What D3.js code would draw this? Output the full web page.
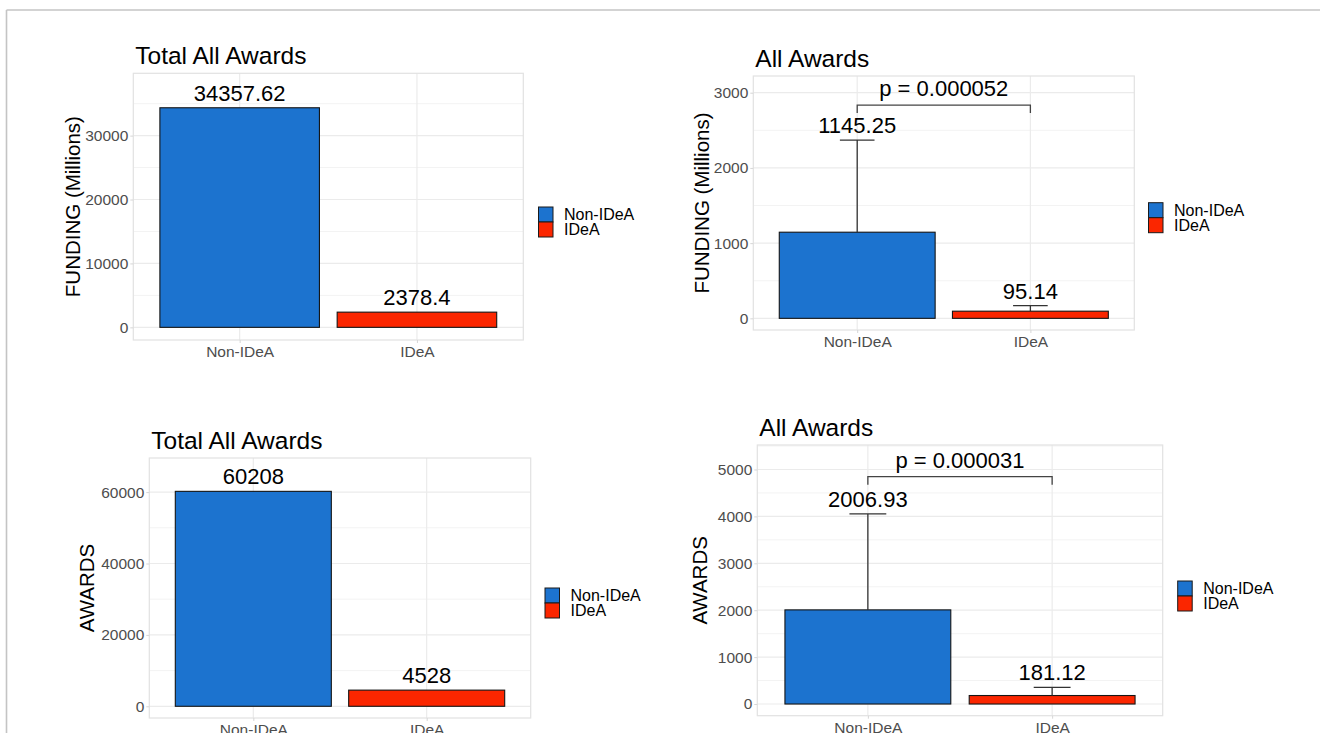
<!DOCTYPE html>
<html>
<head>
<meta charset="utf-8">
<script src="https://cdn.jsdelivr.net/npm/d3@7"></script>
<style>
  html, body { margin: 0; padding: 0; background: #ffffff; }
  svg { display: block; font-family: "Liberation Sans", Arial, Helvetica, sans-serif; }
</style>
</head>
<body>
<svg id="chart" width="1320" height="733"></svg>
<script>
// ---- data ----
const categories = ["Non-IDeA", "IDeA"];
const fillColors = ["#1c73cf", "#fb2600"];

const totalFunding = [34357.62, 2378.4];      // millions, summed
const meanFunding  = [1145.25, 95.14];        // millions, mean per state
const sdFunding    = [1225, 73];              // upper error bar extent

const totalAwards  = [60208, 4528];
const meanAwards   = [2006.93, 181.12];
const sdAwards     = [2045, 175];

const fundingTotalTicks = [0, 10000, 20000, 30000];
const fundingMeanTicks  = [0, 1000, 2000, 3000];
const awardsTotalTicks  = [0, 20000, 40000, 60000];
const awardsMeanTicks   = [0, 1000, 2000, 3000, 4000, 5000];

const pFunding = "p = 0.000052";
const pAwards  = "p = 0.000031";

// ---- panel layout ----
const panels = [
  { title: "Total All Awards", yTitle: "FUNDING (Millions)",
    left: 133.3, right: 523.3, top: 73.3, bottom: 340,
    domain: [-1980, 39750], ticks: fundingTotalTicks, values: totalFunding,
    yTitleX: 79.5, legendX: 538.5, legendY: 207 },
  { title: "All Awards", yTitle: "FUNDING (Millions)",
    left: 753.3, right: 1134.3, top: 76, bottom: 330,
    domain: [-155, 3222], ticks: fundingMeanTicks, values: meanFunding, sd: sdFunding,
    p: pFunding, bracketY: 2836, bracketTip: 106,
    yTitleX: 708.5, legendX: 1148.5, legendY: 202.7 },
  { title: "Total All Awards", yTitle: "AWARDS",
    left: 149.3, right: 530.7, top: 458, bottom: 718,
    domain: [-3280, 69550], ticks: awardsTotalTicks, values: totalAwards,
    yTitleX: 93.5, legendX: 545, legendY: 588 },
  { title: "All Awards", yTitle: "AWARDS",
    left: 757.3, right: 1162.7, top: 445, bottom: 715.7,
    domain: [-249, 5522], ticks: awardsMeanTicks, values: meanAwards, sd: sdAwards,
    p: pAwards, bracketY: 4846, bracketTip: 174,
    yTitleX: 706.5, legendX: 1177.7, legendY: 581 }
];

const svg = d3.select("#chart");

// outer frame lines
svg.append("line").attr("x1", 6.5).attr("x2", 1320).attr("y1", 10).attr("y2", 10)
  .attr("stroke", "#c4c4c4").attr("stroke-width", 1.6);
svg.append("line").attr("x1", 6.5).attr("x2", 6.5).attr("y1", 10).attr("y2", 733)
  .attr("stroke", "#c4c4c4").attr("stroke-width", 1.6);

panels.forEach(p => {
  const g = svg.append("g");
  const x = d3.scalePoint().domain(categories).range([p.left, p.right]).padding(0.6);
  const step = x.step();
  const y = d3.scaleLinear().domain(p.domain).range([p.bottom, p.top]);

  // minor grid (midpoints between major ticks)
  const tStep = p.ticks[1] - p.ticks[0];
  const minor = [];
  for (let v = tStep / 2; v < p.domain[1]; v += tStep) minor.push(v);
  g.selectAll(".minor").data(minor).join("line")
    .attr("x1", p.left).attr("x2", p.right)
    .attr("y1", d => y(d)).attr("y2", d => y(d))
    .attr("stroke", "#f3f3f3").attr("stroke-width", 1);

  // major grid
  g.selectAll(".major").data(p.ticks).join("line")
    .attr("x1", p.left).attr("x2", p.right)
    .attr("y1", d => y(d)).attr("y2", d => y(d))
    .attr("stroke", "#ebebeb").attr("stroke-width", 1.2);
  g.selectAll(".vmajor").data(categories).join("line")
    .attr("x1", d => x(d)).attr("x2", d => x(d))
    .attr("y1", p.top).attr("y2", p.bottom)
    .attr("stroke", "#ebebeb").attr("stroke-width", 1.2);

  // panel border
  g.append("rect").attr("x", p.left).attr("y", p.top)
    .attr("width", p.right - p.left).attr("height", p.bottom - p.top)
    .attr("fill", "none").attr("stroke", "#e2e2e2").attr("stroke-width", 1.2);

  // bars
  const bw = step * 0.9;
  g.selectAll(".bar").data(categories).join("rect")
    .attr("x", d => x(d) - bw / 2)
    .attr("width", bw)
    .attr("y", (d, i) => y(p.values[i]))
    .attr("height", (d, i) => y(0) - y(p.values[i]))
    .attr("fill", (d, i) => fillColors[i])
    .attr("stroke", "#151515").attr("stroke-width", 1.1);

  // error bars (upper only, drawn above the bar)
  const capW = step * 0.2;
  if (p.sd) {
    categories.forEach((c, i) => {
      const top = p.values[i] + p.sd[i];
      g.append("line").attr("x1", x(c)).attr("x2", x(c))
        .attr("y1", y(p.values[i])).attr("y2", y(top))
        .attr("stroke", "#333").attr("stroke-width", 1.3);
      g.append("line").attr("x1", x(c) - capW / 2).attr("x2", x(c) + capW / 2)
        .attr("y1", y(top)).attr("y2", y(top))
        .attr("stroke", "#333").attr("stroke-width", 1.3);
    });
  }

  // value labels
  g.selectAll(".vlabel").data(categories).join("text")
    .attr("x", d => x(d))
    .attr("y", (d, i) => y(p.values[i] + (p.sd ? p.sd[i] : 0)) - 7)
    .attr("text-anchor", "middle")
    .style("font-size", "22px").attr("fill", "#000")
    .text((d, i) => String(p.values[i]));

  // significance bracket
  if (p.p) {
    const x0 = x(categories[0]), x1 = x(categories[1]);
    const yb = y(p.bracketY), yt = y(p.bracketY - p.bracketTip);
    g.append("path")
      .attr("d", `M${x0},${yt}V${yb}H${x1}V${yt}`)
      .attr("fill", "none").attr("stroke", "#444").attr("stroke-width", 1.3);
    g.append("text").attr("x", (x0 + x1) / 2).attr("y", yb - 9)
      .attr("text-anchor", "middle").style("font-size", "22px").attr("fill", "#000")
      .text(p.p);
  }

  // y axis
  const ya = g.append("g").attr("transform", `translate(${p.left},0)`)
    .call(d3.axisLeft(y).tickValues(p.ticks).tickSize(3).tickPadding(2).tickFormat(d3.format("d")));
  ya.select(".domain").remove();
  ya.selectAll(".tick line").attr("stroke", "#d6d6d6");
  ya.selectAll(".tick text").style("font-size", "15.5px").attr("fill", "#4d4d4d")
    .style("font-family", "'Liberation Sans', Arial, sans-serif");

  // x axis
  const xa = g.append("g").attr("transform", `translate(0,${p.bottom})`)
    .call(d3.axisBottom(x).tickSize(3).tickPadding(3));
  xa.select(".domain").remove();
  xa.selectAll(".tick line").attr("stroke", "#d6d6d6");
  xa.selectAll(".tick text").style("font-size", "15.5px").attr("fill", "#4d4d4d")
    .style("font-family", "'Liberation Sans', Arial, sans-serif");

  // titles
  g.append("text").attr("x", p.left + 2).attr("y", p.top - 9.5)
    .style("font-size", "24.5px").attr("fill", "#000").text(p.title);
  g.append("text")
    .attr("transform", `translate(${p.yTitleX},${(p.top + p.bottom) / 2}) rotate(-90)`)
    .attr("text-anchor", "middle").style("font-size", "20.5px").attr("fill", "#000")
    .text(p.yTitle);

  // legend
  const lg = g.append("g").attr("transform", `translate(${p.legendX},${p.legendY})`);
  categories.forEach((c, i) => {
    lg.append("rect").attr("x", 0).attr("y", i * 15).attr("width", 14.5).attr("height", 15)
      .attr("fill", fillColors[i]).attr("stroke", "#1a1a1a").attr("stroke-width", 1);
    lg.append("text").attr("x", 25.5).attr("y", i * 15 + 7.5)
      .attr("dominant-baseline", "central")
      .style("font-size", "16px").attr("fill", "#000").text(c);
  });
});
</script>
</body>
</html>
